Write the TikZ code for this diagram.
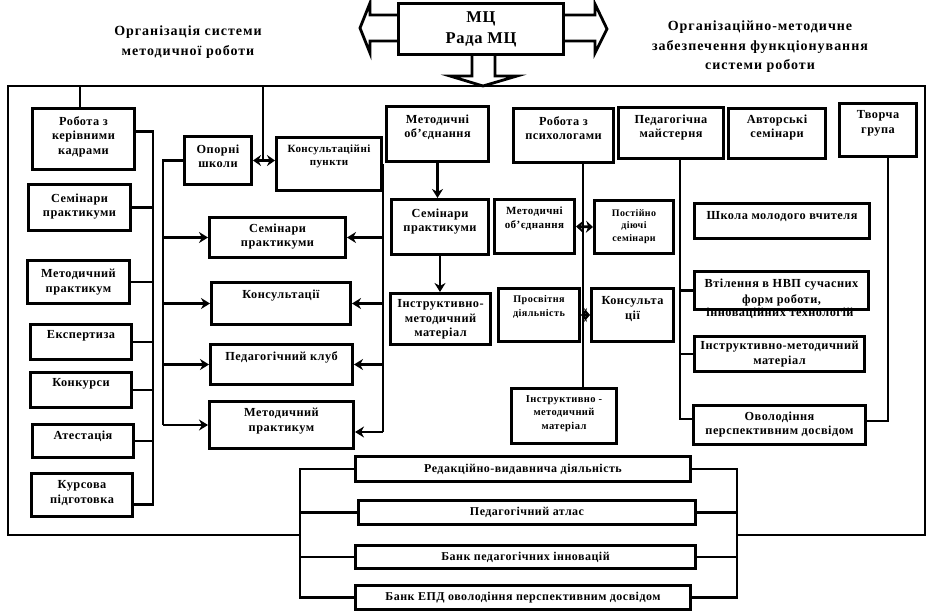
\documentclass[tikz,border=0pt]{standalone}
\usepackage{fontspec}
\setmainfont{Liberation Serif}
\newfontfamily\boxfont[LetterSpace=4]{Liberation Serif}
\newfontfamily\titlefont[LetterSpace=7]{Liberation Serif}
\usetikzlibrary{arrows.meta}

% width, height, top padding, text
\newcommand{\cell}[4]{\parbox[c][#2pt][t]{#1pt}{\centering\vspace*{#3pt}#4}}

\tikzset{
  box/.style={draw, line width=3pt, inner sep=0pt, anchor=north west,
    font=\boxfont\bfseries\fontsize{12.3}{14.5}\selectfont},
  small/.style 2 args={font=\boxfont\bfseries\fontsize{#1}{#2}\selectfont},
  conn/.style={line width=2.8pt},
  arr/.style={conn, -{Stealth[length=9pt,width=11pt]}},
  dbl/.style={conn, {Stealth[length=7pt,width=12pt]}-{Stealth[length=7pt,width=12pt]}},
  title/.style={align=center, font=\titlefont\bfseries\fontsize{14}{19.5}\selectfont},
}

\begin{document}
\begin{tikzpicture}[x=1pt, y=-1pt]
    \useasboundingbox (0,0) rectangle (937,614);

    % centre and its arrows
    \node[box, small={16.5}{21}] (mc) at (397,2) {\cell{165}{51}{8}{МЦ\\Рада МЦ}};
    \draw[conn] (mc.west |- 0,15) -- (370,15) -- (370,3) -- (360,28) -- (370,53) -- (370,41) -- (mc.west |- 0,41);
    \draw[conn] (mc.east |- 0,15) -- (595,15) -- (595,4) -- (607,29) -- (595,53) -- (595,41) -- (mc.east |- 0,41);
    \draw[conn] (mc.south -| 472,0) -- (472,76) -- (450,76) -- (483,86) -- (517,76) -- (495,76) -- (mc.south -| 495,0);

    \node[title] (orgsys) at (188,42) {Організація системи\\методичної роботи};
    \node[title] (orgmet) at (760,47) {Організаційно-методичне\\забезпечення функціонування\\системи роботи};

    % frame
    \coordinate (fTL) at (8,86);
    \coordinate (fTR) at (925,86);
    \coordinate (fBL) at (8,535);
    \coordinate (fBR) at (925,535);
    \coordinate (bbl) at (300,0);
    \coordinate (bbr) at (737,0);
    \draw[conn] (fBL -| bbl) -- (fBL) -- (fTL) -- (fTR) -- (fBR) -- (fBR -| bbr);

    % left column
    \node[box] (kerivn) at (31,107) {\cell{102}{61}{8}{Робота з\\керівними\\кадрами}};
    \node[box] (semL) at (27,183) {\cell{102}{46}{9}{Семінари\\практикуми}};
    \node[box] (metpr) at (26,259) {\cell{102}{43}{9}{Методичний\\практикум}};
    \node[box] (ekspert) at (29,323) {\cell{101}{35}{6}{Експертиза}};
    \node[box] (konk) at (29,371) {\cell{101}{35}{6}{Конкурси}};
    \node[box] (atest) at (31,423) {\cell{101}{33}{6}{Атестація}};
    \node[box] (kurs) at (30,472) {\cell{101}{43}{7}{Курсова\\підготовка}};

    % inner block
    \node[box] (opora) at (183,135) {\cell{67}{48}{8}{Опорні\\школи}};
    \node[box, small={11}{13}] (konsp) at (275,136) {\cell{105}{53}{7}{Консультаційні\\пункти}};
    \node[box] (semC) at (208,216) {\cell{136}{40}{6}{Семінари\\практикуми}};
    \node[box] (konsC) at (210,281) {\cell{139}{42}{7}{Консультації}};
    \node[box] (klub) at (209,343) {\cell{142}{40}{7}{Педагогічний клуб}};
    \node[box] (metprC) at (208,400) {\cell{144}{47}{7}{Методичний\\практикум}};

    % methodical unions
    \node[box] (mob) at (385,105) {\cell{102}{55}{8}{Методичні\\об’єднання}};
    \node[box] (semM) at (390,198) {\cell{97}{55}{9}{Семінари\\практикуми}};
    \node[box] (instrM) at (389,292) {\cell{100}{51}{6}{Інструктивно-\\методичний\\матеріал}};

    % psychologists
    \node[box] (psy) at (512,107) {\cell{100}{54}{8}{Робота з\\психологами}};
    \node[box, small={11}{14}] (mob2) at (493,198) {\cell{80}{54}{7}{Методичні\\об’єднання}};
    \node[box, small={10}{12.5}] (post) at (593,199) {\cell{79}{53}{9}{Постійно\\діючі\\семінари}};
    \node[box, small={10.2}{14}] (prosv) at (497,287) {\cell{81}{53}{7}{Просвітня\\діяльність}};
    \node[box] (konsPs) at (590,287) {\cell{82}{53}{8}{Консульта\\ції}};
    \node[box, small={10.5}{13.5}] (instrPs) at (510,387) {\cell{105}{55}{7}{Інструктивно -\\методичний\\матеріал}};

    % top right
    \node[box] (mayst) at (617,106) {\cell{105}{51}{7}{Педагогічна\\майстерня}};
    \node[box] (avt) at (727,107) {\cell{97}{50}{6}{Авторські\\семінари}};
    \node[box] (tvor) at (838,102) {\cell{77}{53}{7}{Творча\\група}};

    % right column
    \node[box] (shkola) at (693,202) {\cell{175}{35}{8}{Школа молодого вчителя}};
    \node[font=\boxfont\bfseries\fontsize{12.3}{15}\selectfont, inner sep=0pt] (vtil3) at (780,313) {інноваційних технологій};
    \node[box, font=\boxfont\bfseries\fontsize{12.3}{16}\selectfont] (vtil) at (693,270) {\cell{174}{38}{7}{Втілення в НВП сучасних\\форм роботи,}};
    \node[box] (instrR) at (693,335) {\cell{170}{35}{5}{Інструктивно-методичний\\матеріал}};
    \node[box] (ovol) at (692,404) {\cell{172}{39}{6}{Оволодіння\\перспективним досвідом}};

    % bottom
    \node[box, small={12}{14}, minimum width=335pt, minimum height=25pt] (red) at (354,455) {Редакційно-видавнича діяльність};
    \node[box, small={12}{14}, minimum width=337pt, minimum height=24pt] (atlas) at (357,499) {Педагогічний атлас};
    \node[box, small={12}{14}, minimum width=340pt, minimum height=23pt] (bankPI) at (354,544) {Банк педагогічних інновацій};
    \node[box, small={12}{14}, minimum width=335pt, minimum height=24pt] (bankEPD) at (354,584) {Банк ЕПД оволодіння перспективним досвідом};

    % left column bracket
    \coordinate (lbr) at (153,0);
    \draw[conn] (fTL -| 80,0) -- (kerivn.north -| 80,0);
    \draw[conn] ([yshift=7.5pt]kerivn.east) -| ([yshift=-9.5pt]kurs.east -| lbr) -- ([yshift=-9.5pt]kurs.east);
    \draw[conn] (semL.east) -- (semL.east -| lbr);
    \draw[conn] (metpr.east) -- (metpr.east -| lbr);
    \draw[conn] (ekspert.east) -- (ekspert.east -| lbr);
    \draw[conn] (konk.east) -- (konk.east -| lbr);
    \draw[conn] (atest.east) -- (atest.east -| lbr);

    % inner brackets
    \coordinate (ibr) at (163,0);
    \coordinate (rbr) at (383,0);
    \draw[conn] (fTL -| 263,0) -- (opora.east -| 263,0);
    \draw[dbl, {Stealth[length=8pt,width=11pt]}-{Stealth[length=8pt,width=11pt]}] (opora.east) -- (opora.east -| konsp.west);
    \draw[conn] (opora.west) -- (opora.west -| ibr) -- (metprC.west -| ibr);
    \draw[arr] (semC.west -| ibr) -- (semC.west);
    \draw[arr] (konsC.west -| ibr) -- (konsC.west);
    \draw[arr] (klub.west -| ibr) -- (klub.west);
    \draw[arr] (metprC.west -| ibr) -- (metprC.west);
    \draw[conn] (konsp.east) -- (konsp.east -| rbr) -- ([yshift=-7pt]metprC.east -| rbr);
    \draw[arr] (semC.east -| rbr) -- (semC.east);
    \draw[arr] (konsC.east -| rbr) -- (konsC.east);
    \draw[arr] (klub.east -| rbr) -- (klub.east);
    \draw[arr] ([yshift=-7pt]metprC.east -| rbr) -- ([yshift=-7pt]metprC.east);

    % methodical unions
    \draw[arr] (mob.south) -- (mob.south |- semM.north);
    \draw[arr] (semM.south) -- (semM.south |- instrM.north);

    % psychologists
    \coordinate (pv) at (583,0);
    \draw[conn] (psy.south -| pv) -- (instrPs.north -| pv);
    \draw[dbl] (mob2.east) -- (post.west);
    \draw[dbl, {Stealth[length=6pt,width=14pt]}-{Stealth[length=6pt,width=14pt]}] (prosv.east) -- (konsPs.west);

    % right column brackets
    \coordinate (mbr) at (680,0);
    \coordinate (tbr) at (888,0);
    \draw[conn] (mayst.south -| mbr) -- ([yshift=6pt]ovol.west -| mbr) -- ([yshift=6pt]ovol.west);
    \draw[conn] (vtil.west -| mbr) -- (vtil.west);
    \draw[conn] (instrR.west -| mbr) -- (instrR.west);
    \draw[conn] (tvor.south -| tbr) -- ([yshift=4pt]ovol.east -| tbr) -- ([yshift=4pt]ovol.east);

    % bottom brackets
    \draw[conn] (red.west) -- (red.west -| bbl) -- (bankEPD.west -| bbl) -- (bankEPD.west);
    \draw[conn] (atlas.west -| bbl) -- (atlas.west);
    \draw[conn] (bankPI.west -| bbl) -- (bankPI.west);
    \draw[conn] (red.east) -- (red.east -| bbr) -- (bankEPD.east -| bbr) -- (bankEPD.east);
    \draw[conn] (atlas.east) -- (atlas.east -| bbr);
    \draw[conn] (bankPI.east) -- (bankPI.east -| bbr);
\end{tikzpicture}
\end{document}
